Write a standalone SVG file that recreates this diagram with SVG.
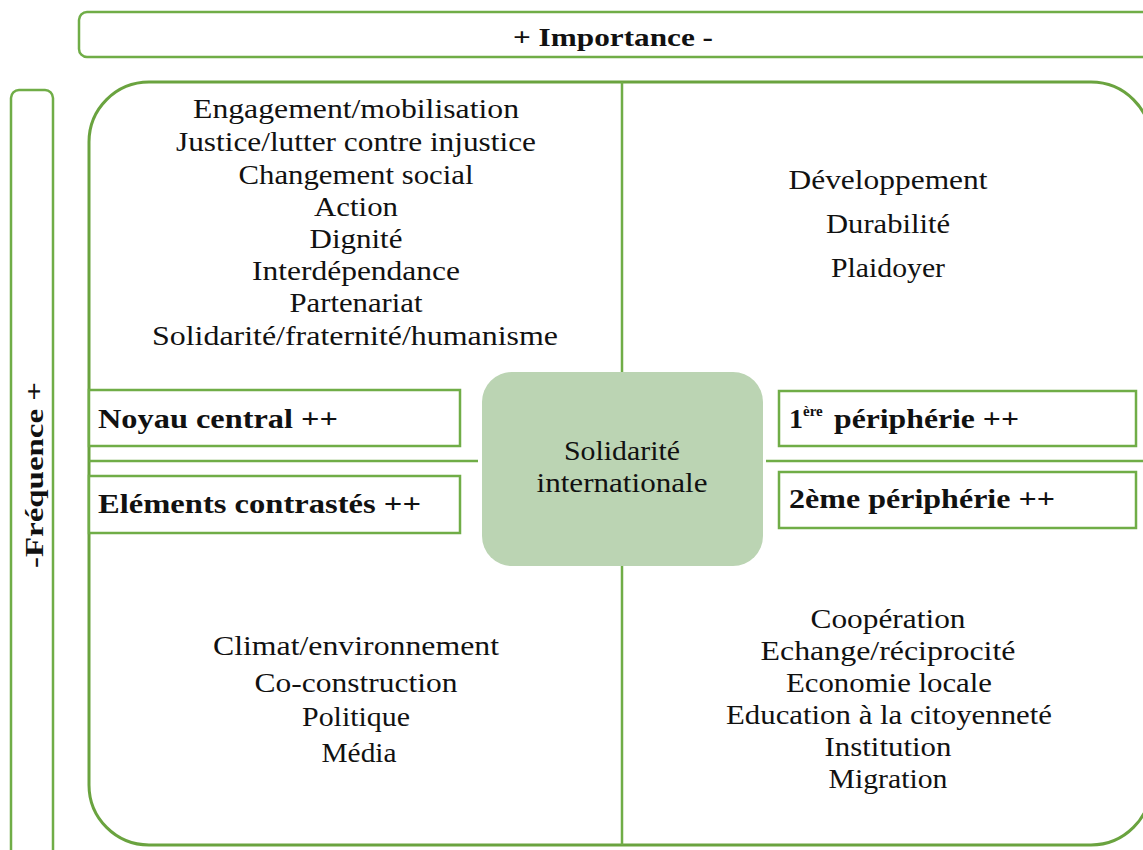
<svg xmlns="http://www.w3.org/2000/svg" width="1143" height="850" viewBox="0 0 1143 850">
<style>
.frame{fill:none;stroke:#6aa33f;stroke-width:3}
.bar{fill:#ffffff;stroke:#70ad47;stroke-width:2.5}
.lbl{fill:#ffffff;stroke:#70ad47;stroke-width:2.5}
.div{stroke:#70ad47;stroke-width:2.5;fill:none}
.t{font-family:"Liberation Serif",serif;font-size:27px;fill:#111111;text-anchor:middle}
.b{font-family:"Liberation Serif",serif;font-size:28px;font-weight:bold;fill:#111111}
.hb{font-family:"Liberation Serif",serif;font-size:26px;font-weight:bold;fill:#111111;text-anchor:middle}
</style>
<rect width="1143" height="850" fill="#ffffff"/>
<g id="importance">
<rect class="bar" x="79" y="12" width="1080" height="45" rx="8"/>
<text class="hb" x="613" y="46" textLength="200" lengthAdjust="spacingAndGlyphs">+ Importance -</text>
</g>
<g id="frequence">
<rect class="bar" x="11" y="90" width="42" height="780" rx="8"/>
<text class="hb" transform="translate(43,475) rotate(-90)" x="0" y="0" textLength="186" lengthAdjust="spacingAndGlyphs">-Fréquence +</text>
</g>
<g id="frame">
<rect class="frame" x="89" y="82" width="1062" height="763" rx="60"/>
</g>
<g id="connectors">
<line class="div" x1="622" y1="82" x2="622" y2="372"/>
<line class="div" x1="622" y1="566" x2="622" y2="845"/>
<line class="div" x1="89" y1="461" x2="478" y2="461"/>
<line class="div" x1="766" y1="461" x2="1150" y2="461"/>
</g>
<g id="quadrant-top-left">
<text class="t" x="356" y="118" textLength="326" lengthAdjust="spacingAndGlyphs">Engagement/mobilisation</text>
<text class="t" x="356" y="151" textLength="360" lengthAdjust="spacingAndGlyphs">Justice/lutter contre injustice</text>
<text class="t" x="356" y="184" textLength="235" lengthAdjust="spacingAndGlyphs">Changement social</text>
<text class="t" x="356" y="216" textLength="84" lengthAdjust="spacingAndGlyphs">Action</text>
<text class="t" x="356" y="248" textLength="93" lengthAdjust="spacingAndGlyphs">Dignité</text>
<text class="t" x="356" y="280" textLength="208" lengthAdjust="spacingAndGlyphs">Interdépendance</text>
<text class="t" x="356" y="312" textLength="133" lengthAdjust="spacingAndGlyphs">Partenariat</text>
<text class="t" x="355" y="345" textLength="406" lengthAdjust="spacingAndGlyphs">Solidarité/fraternité/humanisme</text>
</g>
<g id="quadrant-top-right">
<text class="t" x="888" y="189" textLength="199" lengthAdjust="spacingAndGlyphs">Développement</text>
<text class="t" x="888" y="233" textLength="124" lengthAdjust="spacingAndGlyphs">Durabilité</text>
<text class="t" x="888" y="277" textLength="114" lengthAdjust="spacingAndGlyphs">Plaidoyer</text>
</g>
<g id="quadrant-bottom-left">
<text class="t" x="356" y="655" textLength="286" lengthAdjust="spacingAndGlyphs">Climat/environnement</text>
<text class="t" x="356" y="692" textLength="203" lengthAdjust="spacingAndGlyphs">Co-construction</text>
<text class="t" x="356" y="726" textLength="108" lengthAdjust="spacingAndGlyphs">Politique</text>
<text class="t" x="359" y="762" textLength="75" lengthAdjust="spacingAndGlyphs">Média</text>
</g>
<g id="quadrant-bottom-right">
<text class="t" x="888" y="628" textLength="155" lengthAdjust="spacingAndGlyphs">Coopération</text>
<text class="t" x="888" y="660" textLength="255" lengthAdjust="spacingAndGlyphs">Echange/réciprocité</text>
<text class="t" x="889" y="692" textLength="206" lengthAdjust="spacingAndGlyphs">Economie locale</text>
<text class="t" x="889" y="724" textLength="326" lengthAdjust="spacingAndGlyphs">Education à la citoyenneté</text>
<text class="t" x="888" y="756" textLength="127" lengthAdjust="spacingAndGlyphs">Institution</text>
<text class="t" x="888" y="788" textLength="119" lengthAdjust="spacingAndGlyphs">Migration</text>
</g>
<g id="noyau-central">
<rect class="lbl" x="89" y="390" width="371" height="56"/>
<text class="b" x="98" y="428" textLength="240" lengthAdjust="spacingAndGlyphs">Noyau central ++</text>
</g>
<g id="elements-contrastes">
<rect class="lbl" x="89" y="476" width="371" height="57"/>
<text class="b" x="98" y="513" textLength="323" lengthAdjust="spacingAndGlyphs">Eléments contrastés ++</text>
</g>
<g id="premiere-peripherie">
<rect class="lbl" x="779" y="391" width="357" height="55"/>
<text class="b" x="789" y="428">1<tspan font-size="15" dy="-12">ère</tspan><tspan dy="12" x="834" textLength="185" lengthAdjust="spacingAndGlyphs">périphérie ++</tspan></text>
</g>
<g id="deuxieme-peripherie">
<rect class="lbl" x="779" y="472" width="357" height="56"/>
<text class="b" x="789" y="508" textLength="266" lengthAdjust="spacingAndGlyphs">2ème périphérie ++</text>
</g>
<g id="centre">
<rect x="482" y="372" width="281" height="194" rx="30" fill="#bbd4b3"/>
<text class="t" x="622" y="460" textLength="116" lengthAdjust="spacingAndGlyphs">Solidarité</text>
<text class="t" x="622" y="492" textLength="171" lengthAdjust="spacingAndGlyphs">internationale</text>
</g>
</svg>
